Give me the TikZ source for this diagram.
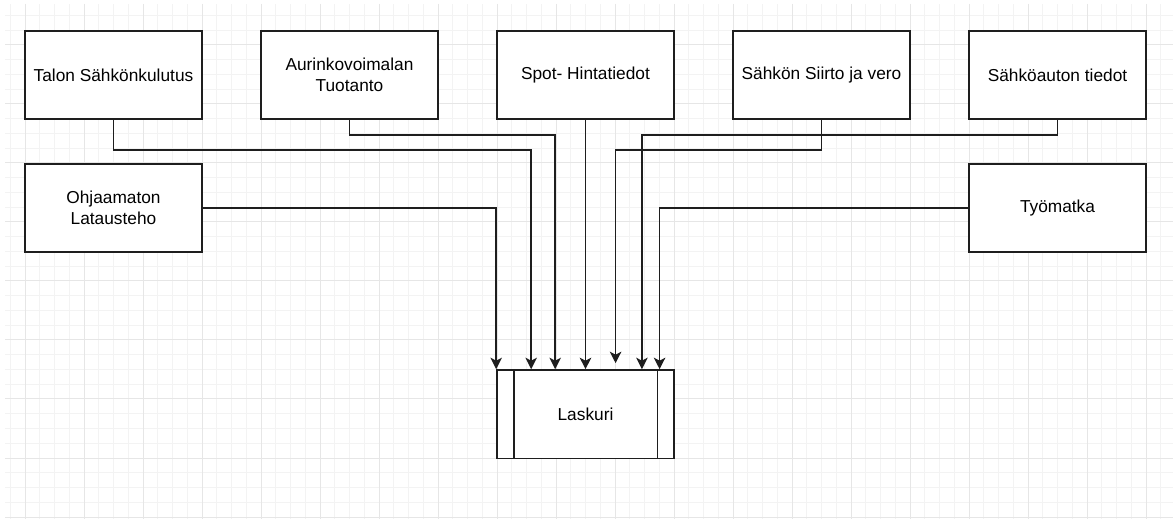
\documentclass[tikz,border=0pt]{standalone}
\usepackage{fontspec}
\setmainfont{Liberation Sans}
\usetikzlibrary{arrows.meta,calc}
\definecolor{gridminor}{HTML}{F3F3F3}
\definecolor{gridmajor}{HTML}{E6E6E6}
\definecolor{strk}{HTML}{1E1E1E}
\begin{document}
\begin{tikzpicture}[x=1bp,y=-1bp,
  box/.style={draw=strk,line width=1.6bp,fill=white,minimum width=177bp,minimum height=88bp,inner sep=0pt,align=center,
    font=\fontsize{17.3bp}{20.7bp}\selectfont},
  arr/.style={draw=strk,line width=1.6bp,-{Stealth[length=11.5bp,width=11.5bp,inset=3bp]}},
  ln/.style={draw=strk,line width=1.6bp}]
\useasboundingbox (0,0) rectangle (1173,519);
% grid
\begin{scope}
\clip (5,4) rectangle (1173,519);
\foreach \i in {0,...,80} \draw[gridminor,line width=1bp] ({10.25+14.75*\i},4) -- ({10.25+14.75*\i},519);
\foreach \i in {0,...,36} \draw[gridminor,line width=1bp] (5,{0.75+14.75*\i}) -- (1173,{0.75+14.75*\i});
\foreach \i in {0,...,20} \draw[gridmajor,line width=1bp] ({25+59*\i},4) -- ({25+59*\i},519);
\foreach \i in {0,...,9} \draw[gridmajor,line width=1bp] (5,{-14+59*\i}) -- (1173,{-14+59*\i});
\end{scope}
% nodes
\node[box] (talon) at (113.5,75) {Talon Sähkönkulutus};
\node[box] (aur) at (349.5,75) {Aurinkovoimalan\\Tuotanto};
\node[box] (spot) at (585.5,75) {Spot- Hintatiedot};
\node[box] (siirto) at (821.5,75) {Sähkön Siirto ja vero};
\node[box] (auto) at (1057.5,75) {Sähköauton tiedot};
\node[box] (ohj) at (113.5,208) {Ohjaamaton\\Latausteho};
\node[box] (tyo) at (1057.5,208) {Työmatka};
\node[box,minimum height=88.5bp] (lask) at (585.5,414.25) {Laskuri};
\draw[ln] ([xshift=17.5bp]lask.north west) -- ([xshift=17.5bp]lask.south west);
\draw[ln] ([xshift=-17.5bp]lask.north east) -- ([xshift=-17.5bp]lask.south east);
% connectors
\draw[arr] (ohj.east) -| (lask.north west);
\draw[arr] (talon.south) -- ++(0,30) -| ([xshift=35bp]lask.north west);
\draw[arr] (aur.south) -- ++(0,15) -| ([xshift=59bp]lask.north west);
\draw[arr] (spot.south) -- (lask.north);
\draw[arr] (siirto.south) -- ++(0,30) -| ([xshift=119.4bp,yshift=6bp]lask.north west);
\draw[arr] (auto.south) -- ++(0,15) -| ([xshift=145.7bp]lask.north west);
\draw[arr] (tyo.west) -| ([xshift=163.4bp]lask.north west);
\end{tikzpicture}
\end{document}
